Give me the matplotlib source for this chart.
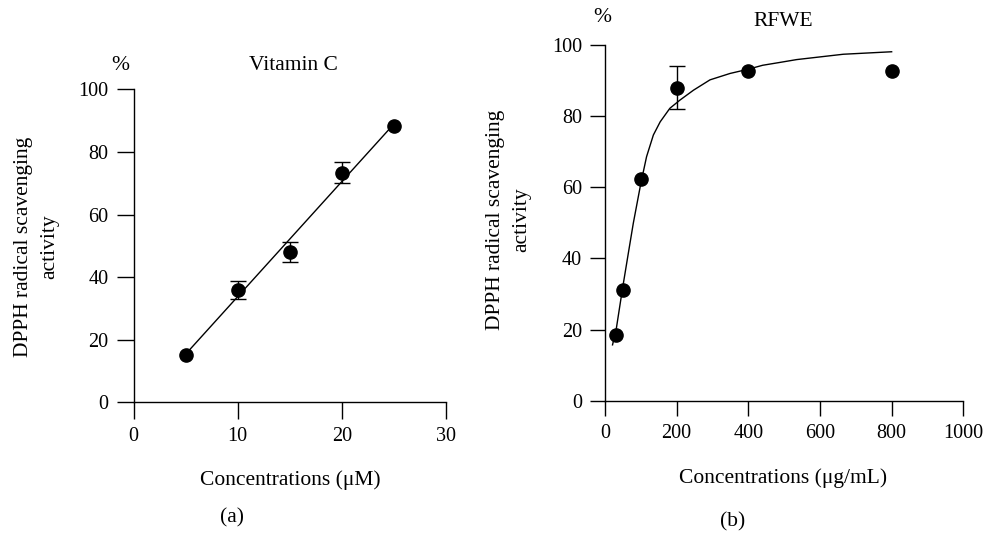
import numpy as np
import matplotlib.pyplot as plt

plt.rcParams['font.family'] = ['Liberation Serif', 'DejaVu Serif']

W, H = 987, 535

# (a) Vitamin C
vitc_conc = [5, 10, 15, 20, 25]
vitc_act = [15.1, 35.9, 48.0, 73.4, 88.3]
vitc_err = [0, 3.0, 3.2, 3.4, 0]

# (b) RFWE
rfwe_conc = [30, 50, 100, 200, 400, 800]
rfwe_act = [18.5, 31.2, 62.2, 88.0, 92.8, 92.8]
rfwe_err = [0, 0, 0, 6.0, 0, 0]

# fitted curve of panel (b)
curve_x = [21, 31, 49, 65, 79, 100, 116, 135, 154, 181, 209, 247, 293, 349, 400, 440, 488, 535, 665, 800]
curve_y = [15.7, 19.9, 31.6, 41.4, 49.9, 61.1, 68.6, 74.7, 78.4, 82.2, 84.5, 87.3, 90.2, 92.0, 93.2, 94.3, 95.1, 95.9, 97.4, 98.1]

TXT = 15.5


def px(x, y):
    return x / W, 1 - y / H


def style(ax, ticklen):
    for s in ('top', 'right'):
        ax.spines[s].set_visible(False)
    for s in ('left', 'bottom'):
        ax.spines[s].set_linewidth(1.0)
    ax.tick_params(direction='out', length=ticklen, width=1.0, pad=6, labelsize=14.5)


fig = plt.figure(figsize=(W / 100, H / 100), dpi=100)

# left panel
x0, y1 = px(133.5, 402.3)
x1, y0 = px(446, 89.3)
ax1 = fig.add_axes([x0, y1, x1 - x0, y0 - y1])
style(ax1, 12)
ax1.set_xlim(0, 30)
ax1.set_ylim(0, 100)
ax1.set_xticks([0, 10, 20, 30])
ax1.set_yticks([0, 20, 40, 60, 80, 100])

k, b = np.polyfit(vitc_conc, vitc_act, 1)
xx = np.array([vitc_conc[0], vitc_conc[-1]])
ax1.plot(xx, k * xx + b, color='black', lw=1.0)
m = np.array(vitc_err) > 0
ax1.errorbar(np.array(vitc_conc)[m], np.array(vitc_act)[m], yerr=np.array(vitc_err)[m],
             fmt='none', ecolor='black', elinewidth=1.0, capsize=6, capthick=1.0)
ax1.plot(vitc_conc, vitc_act, 'o', color='black', ms=9.5)

# right panel
x0, y1 = px(605, 400.7)
x1, y0 = px(963.3, 45)
ax2 = fig.add_axes([x0, y1, x1 - x0, y0 - y1])
style(ax2, 10.5)
ax2.set_xlim(0, 1000)
ax2.set_ylim(0, 100)
ax2.set_xticks([0, 200, 400, 600, 800, 1000])
ax2.set_yticks([0, 20, 40, 60, 80, 100])

ax2.plot(curve_x, curve_y, color='black', lw=1.0)
m = np.array(rfwe_err) > 0
ax2.errorbar(np.array(rfwe_conc)[m], np.array(rfwe_act)[m], yerr=np.array(rfwe_err)[m],
             fmt='none', ecolor='black', elinewidth=1.0, capsize=6, capthick=1.0)
ax2.plot(rfwe_conc, rfwe_act, 'o', color='black', ms=9.5, clip_on=False)

# texts
ylab = 'DPPH radical scavenging\nactivity'
fig.text(*px(36.5, 247), ylab, rotation=90, ha='center', va='center',
         multialignment='center', fontsize=TXT, linespacing=1.5)
fig.text(*px(508.5, 220), ylab, rotation=90, ha='center', va='center',
         multialignment='center', fontsize=TXT, linespacing=1.5)

fig.text(*px(120, 65), '%', ha='center', va='center', fontsize=TXT)
fig.text(*px(293, 65), 'Vitamin C', ha='center', va='center', fontsize=TXT)
fig.text(*px(602, 17), '%', ha='center', va='center', fontsize=TXT)
fig.text(*px(783, 22), 'RFWE', ha='center', va='center', fontsize=TXT)

fig.text(*px(290, 480), 'Concentrations (μM)', ha='center', va='center', fontsize=TXT)
fig.text(*px(783, 478), 'Concentrations (μg/mL)', ha='center', va='center', fontsize=TXT)
fig.text(*px(232, 518), '(a)', ha='center', va='center', fontsize=TXT)
fig.text(*px(733, 522), '(b)', ha='center', va='center', fontsize=TXT)

fig.savefig('out.png', dpi=100)
